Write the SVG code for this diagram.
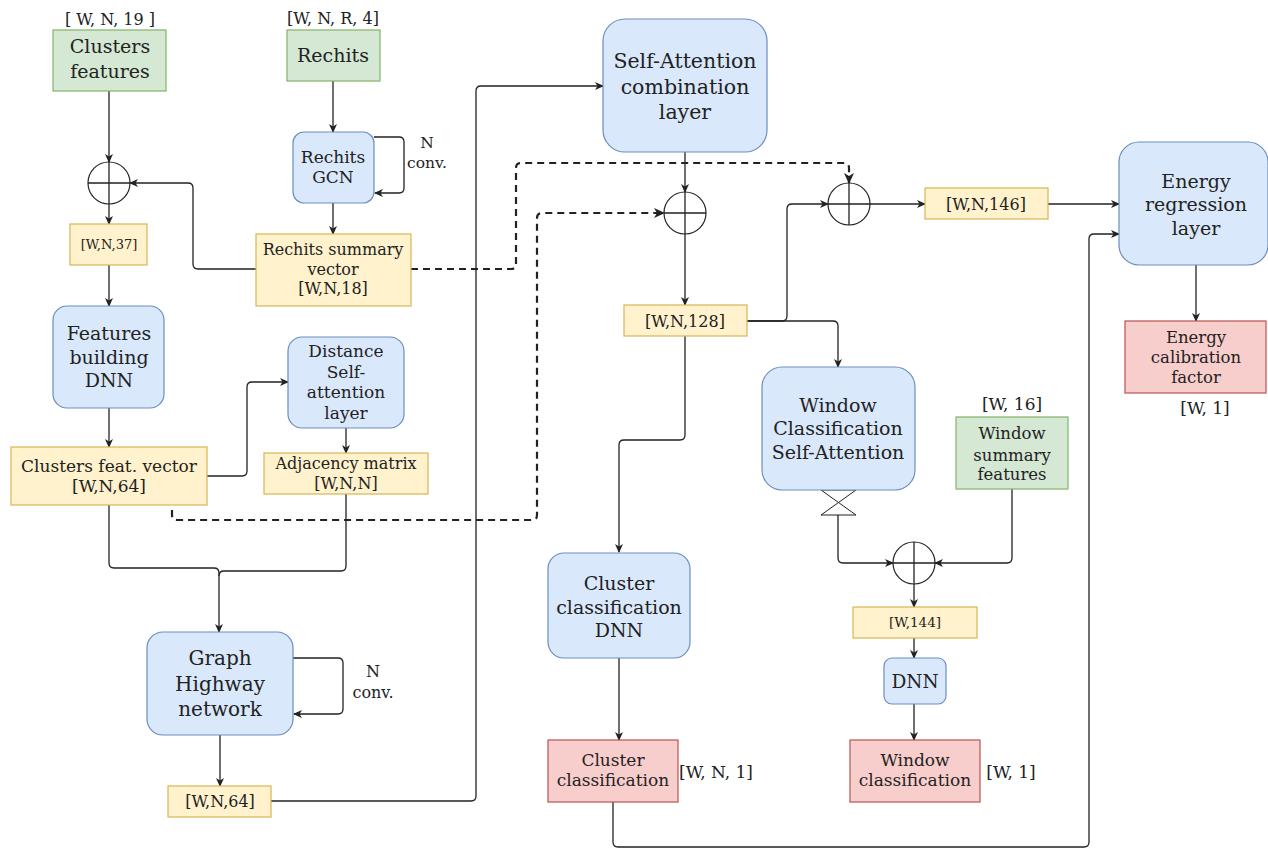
<svg xmlns="http://www.w3.org/2000/svg" width="1268" height="849" viewBox="0 0 1268 849" font-family="'DejaVu Serif', 'Liberation Serif', serif">
<style>
text{font-family:"DejaVu Serif","Liberation Serif",serif;fill:#222;text-anchor:middle}
.g{fill:#d5e8d4;stroke:#82b366;stroke-width:1.2}
.b{fill:#dae8fc;stroke:#6c8ebf;stroke-width:1.2}
.y{fill:#fff2cc;stroke:#d6b656;stroke-width:1.2}
.r{fill:#f8cecc;stroke:#b85450;stroke-width:1.2}
.e{fill:none;stroke:#222;stroke-width:1.3}
.a{marker-end:url(#arr)}
.d{stroke-dasharray:7 5;stroke-width:2.2}
.c{fill:#fff;stroke:#222;stroke-width:1.2}
</style>
<defs>
<marker id="arr" markerWidth="10" markerHeight="10" refX="8" refY="5" orient="auto" markerUnits="userSpaceOnUse">
<path d="M0,1 L9,5 L0,9 L2.5,5 z" fill="#222"/>
</marker>
<marker id="arrb" markerWidth="12" markerHeight="12" refX="10" refY="6" orient="auto" markerUnits="userSpaceOnUse">
<path d="M0,1 L11,6 L0,11 L3,6 z" fill="#222"/>
</marker>
</defs>
<rect width="1268" height="849" fill="#fff"/>

<g id="connectors">
<path class="e a" d="M109,91 V162"/>
<path class="e a" d="M109,204 V224"/>
<path class="e a" d="M109,265 V306"/>
<path class="e a" d="M109,408 V447"/>
<path class="e a" d="M333,81 V132"/>
<path class="e a" d="M374,137 H399 Q404,137 404,142 V188 Q404,193 399,193 H375"/>
<path class="e a" d="M333,203 V234"/>
<path class="e a" d="M256,269 H198 Q193,269 193,264 V188 Q193,183 188,183 H130"/>
<path class="e d" style="marker-end:url(#arrb)" d="M411,269 H511 Q516,269 516,264 V168 Q516,163 521,163 H844 Q849,163 849,168 V183"/>
<path class="e a" d="M207,476 H242 Q247,476 247,471 V387 Q247,382 252,382 H288"/>
<path class="e d" style="marker-end:url(#arrb)" d="M172,510 V515 Q172,520 177,520 H532 Q537,520 537,515 V218 Q537,213 542,213 H664"/>
<path class="e a" d="M346,428 V453"/>
<path class="e" d="M109,505 V563 Q109,568 114,568 H214 Q219,568 219,573"/>
<path class="e" d="M346,494 V566 Q346,571 341,571 H224 Q219,571 219,576"/>
<path class="e a" d="M219,573 V632"/>
<path class="e a" d="M293,658 H338 Q343,658 343,663 V709 Q343,714 338,714 H294"/>
<path class="e a" d="M220,735 V786"/>
<path class="e a" d="M271,801 H471 Q476,801 476,796 V91 Q476,86 481,86 H603"/>
<path class="e a" d="M685,152 V192"/>
<path class="e a" d="M685,234 V305"/>
<path class="e a" d="M747,321 H782 Q787,321 787,316 V209 Q787,204 792,204 H828"/>
<path class="e a" d="M747,321 H833 Q838,321 838,326 V367"/>
<path class="e a" d="M870,204 H925"/>
<path class="e a" d="M1048,204 H1119"/>
<path class="e a" d="M1196,265 V321"/>
<path class="e a" d="M685,336 V435 Q685,440 680,440 H624 Q619,440 619,445 V552"/>
<path class="e a" d="M838,515 V558 Q838,563 843,563 H893"/>
<path class="e a" d="M1012,489 V558 Q1012,563 1007,563 H935"/>
<path class="e a" d="M914,584 V607"/>
<path class="e a" d="M914,638 V658"/>
<path class="e a" d="M914,704 V740"/>
<path class="e a" d="M619,658 V740"/>
<path class="e a" d="M613,802 V842 Q613,847 618,847 H1084 Q1089,847 1089,842 V239 Q1089,234 1094,234 H1119"/>
<path d="M821,490 H856 L821,515 H856 Z" fill="#fff" stroke="#222" stroke-width="1"/>
</g>

<g id="sum1"><circle class="c" cx="109" cy="183" r="21"/><path class="e" d="M88,183 H130 M109,162 V204"/></g>
<g id="sum2"><circle class="c" cx="685" cy="213" r="21"/><path class="e" d="M664,213 H706 M685,192 V234"/></g>
<g id="sum3"><circle class="c" cx="849" cy="204" r="21"/><path class="e" d="M828,204 H870 M849,183 V225"/></g>
<g id="sum4"><circle class="c" cx="914" cy="563" r="21"/><path class="e" d="M893,563 H935 M914,542 V584"/></g>

<g id="clusters-features">
<text x="110" y="25" font-size="16">[ W, N, 19 ]</text>
<rect class="g" x="53" y="30" width="113" height="61"/>
<text x="110" y="53" font-size="19">Clusters</text>
<text x="110" y="78" font-size="19">features</text>
</g>
<g id="rechits">
<text x="333" y="24" font-size="16">[W, N, R, 4]</text>
<rect class="g" x="287" y="30" width="93" height="51"/>
<text x="333" y="62" font-size="19">Rechits</text>
</g>
<g id="rechits-gcn">
<rect class="b" x="293" y="132" width="81" height="71" rx="11"/>
<text x="333" y="163" font-size="17">Rechits</text>
<text x="333" y="183" font-size="17">GCN</text>
<text x="427" y="148" font-size="15.5">N</text>
<text x="427" y="168" font-size="15.5">conv.</text>
</g>
<g id="wn37">
<rect class="y" x="70" y="224" width="77" height="41"/>
<text x="109" y="249" font-size="13">[W,N,37]</text>
</g>
<g id="rechits-summary">
<rect class="y" x="256" y="234" width="155" height="72"/>
<text x="333" y="255" font-size="16">Rechits summary</text>
<text x="333" y="275" font-size="16">vector</text>
<text x="333" y="294" font-size="16">[W,N,18]</text>
</g>
<g id="features-dnn">
<rect class="b" x="53" y="306" width="111" height="102" rx="14"/>
<text x="109" y="340" font-size="19">Features</text>
<text x="109" y="364" font-size="19">building</text>
<text x="109" y="387" font-size="19">DNN</text>
</g>
<g id="clusters-feat-vector">
<rect class="y" x="11" y="447" width="196" height="58"/>
<text x="109" y="472" font-size="17">Clusters feat. vector</text>
<text x="109" y="492" font-size="17">[W,N,64]</text>
</g>
<g id="distance-sa">
<rect class="b" x="288" y="337" width="116" height="91" rx="14"/>
<text x="346" y="357" font-size="17">Distance</text>
<text x="346" y="378" font-size="17">Self-</text>
<text x="346" y="398" font-size="17">attention</text>
<text x="346" y="419" font-size="17">layer</text>
</g>
<g id="adjacency">
<rect class="y" x="264" y="453" width="164" height="41"/>
<text x="346" y="469" font-size="16">Adjacency matrix</text>
<text x="346" y="489" font-size="16">[W,N,N]</text>
</g>
<g id="graph-highway">
<rect class="b" x="147" y="632" width="146" height="103" rx="16"/>
<text x="220" y="665" font-size="20">Graph</text>
<text x="220" y="691" font-size="20">Highway</text>
<text x="220" y="716" font-size="20">network</text>
<text x="373" y="677" font-size="16">N</text>
<text x="373" y="698" font-size="16">conv.</text>
</g>
<g id="wn64">
<rect class="y" x="168" y="786" width="103" height="31"/>
<text x="220" y="807" font-size="16">[W,N,64]</text>
</g>
<g id="self-attention">
<rect class="b" x="603" y="19" width="164" height="133" rx="22"/>
<text x="685" y="68" font-size="20.5">Self-Attention</text>
<text x="685" y="94" font-size="20.5">combination</text>
<text x="685" y="119" font-size="20.5">layer</text>
</g>
<g id="wn128">
<rect class="y" x="624" y="305" width="123" height="31"/>
<text x="685" y="327" font-size="16">[W,N,128]</text>
</g>
<g id="wn146">
<rect class="y" x="925" y="188" width="123" height="31"/>
<text x="986" y="210" font-size="16">[W,N,146]</text>
</g>
<g id="energy-regression">
<rect class="b" x="1119" y="142" width="149" height="123" rx="20"/>
<text x="1196" y="188" font-size="19">Energy</text>
<text x="1196" y="211" font-size="19">regression</text>
<text x="1196" y="235" font-size="19">layer</text>
</g>
<g id="energy-calibration">
<rect class="r" x="1125" y="321" width="141" height="72"/>
<text x="1196" y="343" font-size="16.5">Energy</text>
<text x="1196" y="363" font-size="16.5">calibration</text>
<text x="1196" y="383" font-size="16.5">factor</text>
<text x="1205" y="414" font-size="17">[W, 1]</text>
</g>
<g id="window-sa">
<rect class="b" x="762" y="367" width="153" height="123" rx="20"/>
<text x="838" y="412" font-size="19">Window</text>
<text x="838" y="435" font-size="19">Classification</text>
<text x="838" y="459" font-size="19">Self-Attention</text>
</g>
<g id="window-summary">
<text x="1012" y="410" font-size="17">[W, 16]</text>
<rect class="g" x="956" y="417" width="112" height="72"/>
<text x="1012" y="439" font-size="16.5">Window</text>
<text x="1012" y="461" font-size="16.5">summary</text>
<text x="1012" y="480" font-size="16.5">features</text>
</g>
<g id="cluster-dnn">
<rect class="b" x="548" y="553" width="142" height="105" rx="16"/>
<text x="619" y="590" font-size="19">Cluster</text>
<text x="619" y="614" font-size="19">classification</text>
<text x="619" y="637" font-size="19">DNN</text>
</g>
<g id="w144">
<rect class="y" x="853" y="607" width="124" height="31"/>
<text x="915" y="627" font-size="13.5">[W,144]</text>
</g>
<g id="dnn">
<rect class="b" x="884" y="658" width="62" height="46" rx="8"/>
<text x="915" y="688" font-size="18.5">DNN</text>
</g>
<g id="cluster-classification">
<rect class="r" x="548" y="740" width="130" height="62"/>
<text x="613" y="766" font-size="17">Cluster</text>
<text x="613" y="786" font-size="17">classification</text>
<text x="716" y="778" font-size="17">[W, N, 1]</text>
</g>
<g id="window-classification">
<rect class="r" x="850" y="740" width="130" height="62"/>
<text x="915" y="766" font-size="17">Window</text>
<text x="915" y="786" font-size="17">classification</text>
<text x="1011" y="778" font-size="17">[W, 1]</text>
</g>
</svg>
